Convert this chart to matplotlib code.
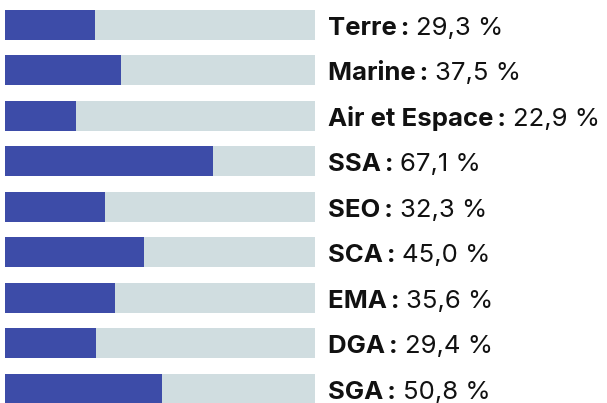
import matplotlib
matplotlib.use("Agg")
import matplotlib.pyplot as plt

# données
categories = ["Terre", "Marine", "Air et Espace", "SSA", "SEO", "SCA", "EMA", "DGA", "SGA"]
valeurs = [29.3, 37.5, 22.9, 67.1, 32.3, 45.0, 35.6, 29.4, 50.8]
labels_val = ["29,3 %", "37,5 %", "22,9 %", "67,1 %", "32,3 %", "45,0 %", "35,6 %", "29,4 %", "50,8 %"]

bleu = "#3d4ca8"
gris = "#d0dde0"

plt.rcParams["font.family"] = ["Inter", "DejaVu Sans"]

fig = plt.figure(figsize=(6.07, 4.03), dpi=100)
ax = fig.add_axes([0, 0, 1, 1])
ax.set_axis_off()

px = 3.105  # pixels par unité
ax.set_xlim(-4.5 / px, -4.5 / px + 607 / px)
ax.set_ylim((403 - 25) / 45.5, -25 / 45.5)

y = list(range(len(categories)))
h = 30 / 45.5
ax.barh(y, [100] * len(y), height=h, color=gris, left=0)
ax.barh(y, valeurs, height=h, color=bleu, left=0)

fs = 18.5
x_txt = (328 - 4.5) / px
fig.canvas.draw()
for i, (cat, lab) in enumerate(zip(categories, labels_val)):
    t = ax.annotate(cat + "\u2009:", (x_txt, i), xytext=(0, -7.2), textcoords="offset points",
                    fontsize=fs, fontweight="bold", color="#111111", va="baseline", ha="left")
    bb = t.get_window_extent(renderer=fig.canvas.get_renderer())
    ax.annotate(lab, (x_txt, i), xytext=(bb.width * 72 / fig.dpi + 5, -7.2),
                textcoords="offset points", fontsize=fs, color="#111111",
                va="baseline", ha="left")

fig.savefig("out.png", dpi=100)
